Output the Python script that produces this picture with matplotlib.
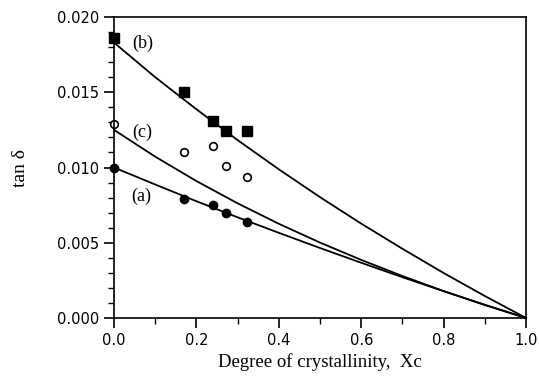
import numpy as np
import matplotlib
matplotlib.use("Agg")
import matplotlib.pyplot as plt
from matplotlib.ticker import MultipleLocator

# measured points
xc_pts = [0.0, 0.17, 0.24, 0.272, 0.322]
tan_b = [0.0186, 0.0150, 0.0131, 0.0124, 0.0124]
tan_c = [0.0129, 0.0110, 0.0114, 0.0101, 0.0094]
tan_a = [0.0100, 0.0079, 0.0075, 0.0070, 0.0064]

# model curves
xc_line = [0.0, 0.1, 0.2, 0.3, 0.4, 0.5, 0.6, 0.7, 0.8, 0.9, 1.0]
line_b = [0.0183, 0.0160, 0.01387, 0.01182, 0.00988, 0.00803, 0.00627, 0.00460, 0.00299, 0.00146, 0.0]
line_c = [0.0125, 0.01072, 0.0091, 0.00762, 0.00626, 0.00501, 0.00386, 0.00279, 0.00179, 0.00086, 0.0]
line_a = [0.0100, 0.00887, 0.00776, 0.00669, 0.00566, 0.00465, 0.00367, 0.00271, 0.00178, 0.00088, 0.0]

serif = "Liberation Serif"

fig = plt.figure(figsize=(5.39, 3.83), dpi=100)
ax = fig.add_axes([0.2115, 0.1697, 0.7645, 0.7859])

for ys in (line_b, line_c, line_a):
    ax.plot(xc_line, ys, color="black", lw=1.3, clip_on=False)

ax.plot(xc_pts, tan_b, "s", color="black", ms=6.5, clip_on=False)
ax.plot(xc_pts, tan_c, "o", mfc="white", mec="black", mew=1.2, ms=5.5, clip_on=False)
ax.plot(xc_pts, tan_a, "o", color="black", ms=6, clip_on=False)

ax.text(0.045, 0.01827, "(b)", family=serif, fontsize=13, va="center")
ax.text(0.045, 0.01236, "(c)", family=serif, fontsize=13, va="center")
ax.text(0.043, 0.0081, "(a)", family=serif, fontsize=13, va="center")

ax.set_xlim(0, 1.0)
ax.set_ylim(0, 0.020)
ax.xaxis.set_major_locator(MultipleLocator(0.2))
ax.xaxis.set_minor_locator(MultipleLocator(0.1))
ax.yaxis.set_major_locator(MultipleLocator(0.005))
ax.yaxis.set_minor_locator(MultipleLocator(0.001))
ax.xaxis.set_major_formatter(plt.FormatStrFormatter("%.1f"))
ax.yaxis.set_major_formatter(plt.FormatStrFormatter("%.3f"))
ax.tick_params(which="major", direction="out", length=7, width=1.2, labelsize=10.5)
ax.tick_params(which="minor", direction="out", length=4, width=1.0)
for s in ax.spines.values():
    s.set_linewidth(1.2)

ax.set_xlabel("Degree of crystallinity,  Xc", family=serif, fontsize=13.5, labelpad=4)
ax.set_ylabel("tan δ", family=serif, fontsize=14, labelpad=20)

fig.savefig("out.png", dpi=100)
